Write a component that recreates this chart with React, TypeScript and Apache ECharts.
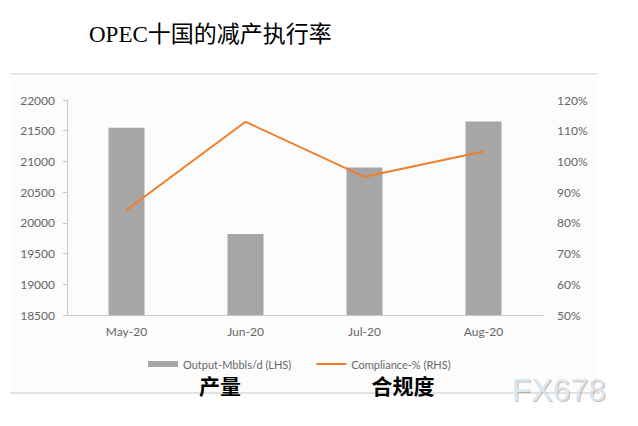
import React, { useEffect, useRef } from "react";
import * as echarts from "echarts";

const categories = ["May-20", "Jun-20", "Jul-20", "Aug-20"];
const outputValues = [21550, 19820, 20900, 21650];
const complianceValues = [84.2, 112.9, 95.0, 103.2];
const titleText = "OPEC十国的减产执行率";
const barName = "Output-Mbbls/d (LHS)";
const lineName = "Compliance-% (RHS)";
const noteLeft = "产量";
const noteRight = "合规度";
const watermark = "FX678";

export default function App() {
  const ref = useRef<HTMLDivElement>(null);
  useEffect(() => {
    if (!ref.current) return;
    const chart = echarts.init(ref.current, null, { renderer: "svg" });
    const labelFont = "Lato, 'Noto Sans', sans-serif";
    chart.setOption({
      animation: false,
      backgroundColor: "#ffffff",
      title: {
        text: titleText,
        left: 84,
        top: 18,
        textStyle: {
          fontFamily: "'Liberation Serif', 'Noto Sans CJK SC', serif",
          fontSize: 23,
          fontWeight: "normal",
          color: "#000",
        },
      },
      grid: { left: 67, right: 95, top: 100, bottom: 111 },
      legend: {
        left: 143,
        top: 353,
        itemWidth: 30,
        itemHeight: 6,
        itemGap: 24,
        textStyle: { color: "#666", fontSize: 11, fontFamily: labelFont, lineHeight: 12 },
        data: [
          { name: barName, icon: "rect" },
          { name: lineName, itemStyle: { opacity: 0 } },
        ],
      },
      xAxis: {
        type: "category",
        data: categories,
        axisLine: { lineStyle: { color: "#c8c8c8" } },
        axisTick: { lineStyle: { color: "#c8c8c8" }, length: 4 },
        axisLabel: { color: "#666", fontSize: 12, margin: 10, fontFamily: labelFont },
      },
      yAxis: [
        {
          type: "value",
          min: 18500,
          max: 22000,
          interval: 500,
          axisLine: { show: true, lineStyle: { color: "#c8c8c8" } },
          axisTick: { show: true, length: 4, lineStyle: { color: "#c8c8c8" } },
          splitLine: { show: false },
          axisLabel: {
            color: "#666",
            fontSize: 12,
            margin: 12,
            fontFamily: labelFont,
            formatter: (v: number) => String(v),
          },
        },
        {
          type: "value",
          min: 50,
          max: 120,
          interval: 10,
          position: "right",
          axisLine: { show: false },
          axisTick: { show: false },
          splitLine: { show: false },
          axisLabel: {
            color: "#666",
            fontSize: 12,
            margin: 14,
            formatter: "{value}%",
            fontFamily: labelFont,
          },
        },
      ],
      series: [
        {
          name: barName,
          type: "bar",
          data: outputValues,
          barWidth: 36,
          itemStyle: { color: "#a6a6a6" },
          yAxisIndex: 0,
        },
        {
          name: lineName,
          type: "line",
          data: complianceValues,
          yAxisIndex: 1,
          symbol: "none",
          lineStyle: { color: "#ee7d2c", width: 2 },
          itemStyle: { color: "#ee7d2c" },
        },
      ],
      graphic: [
        {
          type: "rect",
          z: -10,
          shape: { x: 10, y: 77, width: 588, height: 315 },
          style: { fill: "#fcfcfc" },
          silent: true,
        },
        {
          type: "line",
          shape: { x1: 10, y1: 74, x2: 598, y2: 74 },
          style: { stroke: "#e2e2e2", lineWidth: 1.5 },
        },
        {
          type: "line",
          shape: { x1: 10, y1: 393, x2: 600, y2: 393 },
          style: { stroke: "#d8d8d8", lineWidth: 1.5 },
        },
        {
          type: "text",
          x: 220,
          y: 385,
          style: {
            text: noteLeft,
            fontSize: 21,
            lineHeight: 21,
            fontWeight: "bold",
            fontFamily: "'Noto Sans CJK SC', sans-serif",
            fill: "#000",
            align: "center",
            verticalAlign: "middle",
          },
        },
        {
          type: "text",
          x: 403,
          y: 385,
          style: {
            text: noteRight,
            fontSize: 21,
            lineHeight: 21,
            fontWeight: "bold",
            fontFamily: "'Noto Sans CJK SC', sans-serif",
            fill: "#000",
            align: "center",
            verticalAlign: "middle",
          },
        },
        {
          type: "text",
          x: 559,
          y: 390,
          style: {
            text: watermark,
            fontSize: 32,
            fontFamily: "'Liberation Sans', Arial, sans-serif",
            fill: "#dbe6f3",
            align: "center",
            verticalAlign: "middle",
            textShadowColor: "rgba(170,140,100,0.6)",
            textShadowOffsetX: 1,
            textShadowOffsetY: 1,
            textShadowBlur: 1,
          },
        },
      ],
    });
    return () => chart.dispose();
  }, []);
  return (
    <div
      ref={ref}
      style={{ position: "fixed", left: 0, top: 0, width: 638, height: 426 }}
    />
  );
}
